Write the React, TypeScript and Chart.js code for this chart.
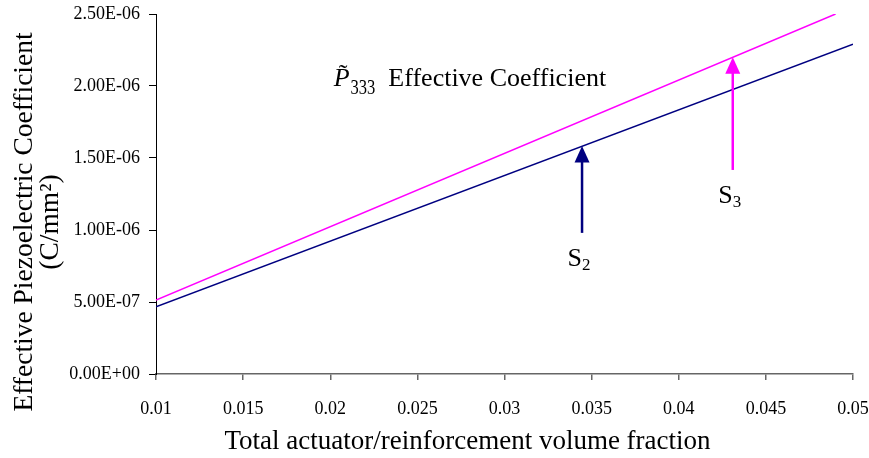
import { useEffect, useRef } from "react";
import { Chart, registerables } from "chart.js";

Chart.register(...registerables);

// Data
const s2X = [0.01, 0.05];
const s2Y = [4.67e-7, 2.29e-6];
const s3X = [0.01, 0.049];
const s3Y = [5.14e-7, 2.5e-6];

const xMin = 0.01;
const xMax = 0.05;
const xStep = 0.005;
const yMin = 0;
const yMax = 2.5e-6;
const yStep = 5e-7;

// Annotation arrows (data units): x, tail y, tip y
const arrowX = [0.03445, 0.0431];
const arrowTail = [0.98e-6, 1.417e-6];
const arrowTip = [1.583e-6, 2.2e-6];
const arrowLabels = ["S", "S"];
const arrowSubs = ["2", "3"];
const arrowColors = ["#000080", "#FF00FF"];

const noteX = 0.0202;
const noteY = 2.0e-6;

const xTitle = "Total actuator/reinforcement volume fraction";
const yTitleLines = ["Effective Piezoelectric Coefficient", "(C/mm\u00B2)"];

const FONT = "'Liberation Serif', 'Times New Roman', serif";

function fmtY(v: number): string {
  if (v === 0) return "0.00E+00";
  const exp = Math.floor(Math.log10(Math.abs(v)) + 1e-9);
  const mant = v / Math.pow(10, exp);
  const sign = exp < 0 ? "-" : "+";
  const e = Math.abs(exp).toString().padStart(2, "0");
  return mant.toFixed(2) + "E" + sign + e;
}

const annotationPlugin = {
  id: "annot",
  afterDraw(chart: any) {
    const ctx = chart.ctx as CanvasRenderingContext2D;
    const xs = chart.scales.x;
    const ys = chart.scales.y;
    const area = chart.chartArea;
    ctx.save();
    for (let i = 0; i < arrowX.length; i++) {
      const px = xs.getPixelForValue(arrowX[i]);
      const pTail = ys.getPixelForValue(arrowTail[i]);
      const pTip = ys.getPixelForValue(arrowTip[i]);
      const col = arrowColors[i];
      ctx.strokeStyle = col;
      ctx.fillStyle = col;
      ctx.lineWidth = 2.5;
      ctx.beginPath();
      ctx.moveTo(px, pTail);
      ctx.lineTo(px, pTip + 14);
      ctx.stroke();
      ctx.beginPath();
      ctx.moveTo(px, pTip);
      ctx.lineTo(px - 7.5, pTip + 16.5);
      ctx.lineTo(px + 7.5, pTip + 16.5);
      ctx.closePath();
      ctx.fill();
      // label
      ctx.fillStyle = "#000";
      ctx.textBaseline = "alphabetic";
      ctx.textAlign = "left";
      ctx.font = `26px ${FONT}`;
      const lx = px - 14.5;
      const ly = pTail + 33;
      ctx.fillText(arrowLabels[i], lx, ly);
      const w = ctx.measureText(arrowLabels[i]).width;
      ctx.font = `17px ${FONT}`;
      ctx.fillText(arrowSubs[i], lx + w, ly + 4);
    }
    // note text: P~333 Effective Coefficient
    const nx = xs.getPixelForValue(noteX);
    const ny = ys.getPixelForValue(noteY);
    ctx.fillStyle = "#000";
    ctx.textAlign = "left";
    ctx.textBaseline = "alphabetic";
    ctx.font = `italic 26px ${FONT}`;
    ctx.fillText("P", nx, ny);
    const pw = ctx.measureText("P").width;
    ctx.font = `26px ${FONT}`;
    ctx.fillText("\u02DC", nx + 5, ny - 4);
    ctx.font = `22px ${FONT}`;
    const subX = nx + pw + 1;
    const sw = ctx.measureText("333").width * 0.75;
    ctx.save();
    ctx.translate(subX, ny + 8);
    ctx.scale(0.75, 1);
    ctx.fillText("333", 0, 0);
    ctx.restore();
    ctx.font = `26px ${FONT}`;
    ctx.fillText("Effective Coefficient", subX + sw + 13, ny);

    // axis titles
    ctx.textAlign = "center";
    ctx.textBaseline = "alphabetic";
    ctx.font = `27px ${FONT}`;
    ctx.fillText(xTitle, (area.left + area.right) / 2 - 37, chart.height - 9);

    const cy = (area.top + area.bottom) / 2 + 28;
    ctx.font = `27.5px ${FONT}`;
    ctx.translate(32, cy);
    ctx.rotate(-Math.PI / 2);
    ctx.fillText(yTitleLines[0], 0, 0);
    ctx.fillText(yTitleLines[1], 0, 26);
    ctx.restore();
  },
};

export default function App() {
  const ref = useRef<HTMLCanvasElement | null>(null);
  useEffect(() => {
    if (!ref.current) return;
    const chart = new Chart(ref.current, {
      type: "line",
      data: {
        datasets: [
          {
            label: "S2",
            data: s2X.map((x, i) => ({ x, y: s2Y[i] })),
            borderColor: "#000080",
            backgroundColor: "#000080",
            borderWidth: 1.5,
            pointRadius: 0,
            tension: 0,
          },
          {
            label: "S3",
            data: s3X.map((x, i) => ({ x, y: s3Y[i] })),
            borderColor: "#FF00FF",
            backgroundColor: "#FF00FF",
            borderWidth: 1.5,
            pointRadius: 0,
            tension: 0,
          },
        ],
      },
      options: {
        animation: false,
        responsive: false,
        layout: { padding: { top: 14, right: 16, left: 0, bottom: 0 } },
        plugins: {
          legend: { display: false },
          tooltip: { enabled: false },
        },
        scales: {
          x: {
            type: "linear",
            min: xMin,
            max: xMax,
            afterFit: (s: any) => {
              s.height = 84;
              s.paddingLeft = 0;
              s.paddingRight = 0;
            },
            ticks: {
              stepSize: xStep,
              color: "#000",
              font: { family: FONT, size: 18 },
              padding: 18,
              maxRotation: 0,
              callback: (v: any) => parseFloat(Number(v).toFixed(4)).toString(),
            },
            grid: { drawOnChartArea: false, color: "#666", tickLength: 6, lineWidth: 1.5 },
            border: { color: "#666", width: 1.5 },
            title: { display: false },
          },
          y: {
            type: "linear",
            min: yMin,
            max: yMax,
            afterFit: (s: any) => {
              s.width = 156;
              s.paddingTop = 0;
              s.paddingBottom = 0;
            },
            ticks: {
              stepSize: yStep,
              color: "#000",
              font: { family: FONT, size: 18 },
              padding: 9,
              callback: (v: any) => fmtY(Number(v)),
            },
            grid: { drawOnChartArea: false, color: "#000", tickLength: 7 },
            border: { color: "#000", width: 1 },
            title: { display: false },
          },
        },
      },
      plugins: [annotationPlugin],
    });
    return () => chart.destroy();
  }, []);
  return (
    <div style={{ position: "absolute", left: 0, top: 0, width: 869, height: 458, background: "#fff" }}>
      <canvas ref={ref} width={869} height={458} />
    </div>
  );
}
